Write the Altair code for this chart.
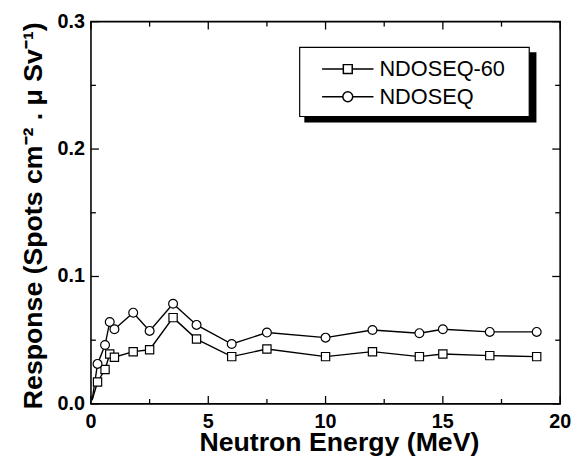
import altair as alt
import pandas as pd

# ---- data ----
energy = [0.05, 0.28, 0.6, 0.8, 1.0, 1.8, 2.5, 3.5, 4.5, 6.0, 7.5, 10.0, 12.0, 14.0, 15.0, 17.0, 19.0]
ndoseq60 = [0.003, 0.0172, 0.027, 0.0392, 0.0366, 0.041, 0.0425, 0.0677, 0.0509, 0.0371,
            0.0431, 0.0371, 0.041, 0.0371, 0.0392, 0.0379, 0.0371]
ndoseq = [0.003, 0.0314, 0.0462, 0.0643, 0.0586, 0.0716, 0.0573, 0.0786, 0.062, 0.047,
          0.056, 0.052, 0.058, 0.0555, 0.0586, 0.0565, 0.0565]
has_marker = [False, True, True, True, True, True, True, True, True, True,
              True, True, True, True, True, True, True]
series_names = ["NDOSEQ-60", "NDOSEQ"]
x_major_values = [0, 5, 10, 15, 20]
x_major_labels = ["0", "5", "10", "15", "20"]
x_minor_values = [2.5, 7.5, 12.5, 17.5]
y_major_values = [0.0, 0.1, 0.2, 0.3]
y_major_labels = ["0.0", "0.1", "0.2", "0.3"]
y_minor_values = [0.05, 0.15, 0.25]
x_title = "Neutron Energy (MeV)"
y_title = "Response (Spots cm⁻² . μ Sv⁻¹)"

rows = []
for name, vals in zip(series_names, [ndoseq60, ndoseq]):
    for e, v, m in zip(energy, vals, has_marker):
        rows.append({"energy": e, "response": v, "series": name, "marker": m})
df = pd.DataFrame(rows)

W, H = 475, 387
FONT = "Liberation Sans"
MAJ, MIN = 8, 5

xs = alt.Scale(domain=[0, 20], nice=False, zero=False)
ys = alt.Scale(domain=[0, 0.3], nice=False)


def X(field):
    return alt.X(field, scale=xs, axis=None)


def Y(field):
    return alt.Y(field, scale=ys, axis=None)


base = alt.Chart(df)

lines = base.mark_line(color="black", strokeWidth=1.4).encode(
    x=X("energy:Q"), y=Y("response:Q"), detail="series:N", order="energy:Q",
)

squares = base.transform_filter("datum.series === 'NDOSEQ-60' && datum.marker").mark_point(
    shape="square", size=70, filled=True, fill="white", stroke="black", strokeWidth=1.2, opacity=1
).encode(x=X("energy:Q"), y=Y("response:Q"))

circles = base.transform_filter("datum.series === 'NDOSEQ' && datum.marker").mark_point(
    shape="circle", size=80, filled=True, fill="white", stroke="black", strokeWidth=1.2, opacity=1
).encode(x=X("energy:Q"), y=Y("response:Q"))


# inward tick marks on all four sides, positioned by the chart's scales
def xticks(values, length, top):
    d = alt.Chart(pd.DataFrame({"energy": values}))
    y0, y1 = (0, length) if top else (H, H - length)
    return d.mark_rule(color="black", strokeWidth=1.3).encode(
        x=X("energy:Q"), y=alt.value(y0), y2=alt.value(y1))


def yticks(values, length, right):
    d = alt.Chart(pd.DataFrame({"response": values}))
    x0, x1 = (W, W - length) if right else (0, length)
    return d.mark_rule(color="black", strokeWidth=1.3).encode(
        y=Y("response:Q"), x=alt.value(x0), x2=alt.value(x1))


tick_layers = [
    xticks(x_major_values, MAJ, False), xticks(x_minor_values, MIN, False),
    xticks(x_major_values, MAJ, True), xticks(x_minor_values, MIN, True),
    yticks(y_major_values, MAJ, False), yticks(y_minor_values, MIN, False),
    yticks(y_major_values, MAJ, True), yticks(y_minor_values, MIN, True),
]

# tick labels placed through the scales
x_labels = alt.Chart(pd.DataFrame({"energy": x_major_values, "lab": x_major_labels})).mark_text(
    font=FONT, fontSize=20, fontWeight="bold", color="black", baseline="top", align="center"
).encode(x=X("energy:Q"), y=alt.value(H + 8), text="lab:N")

y_labels = alt.Chart(pd.DataFrame({"response": y_major_values, "lab": y_major_labels})).mark_text(
    font=FONT, fontSize=20, fontWeight="bold", color="black", baseline="middle", align="right"
).encode(y=Y("response:Q"), x=alt.value(-6), text="lab:N")

deco = alt.Chart(pd.DataFrame({"k": [0]}))
x_title_mark = deco.mark_text(
    text=x_title, font=FONT, fontSize=27, fontWeight="bold", color="black",
    baseline="alphabetic", align="center"
).encode(x=alt.value(251.5), y=alt.value(H + 47.5))
y_title_mark = deco.mark_text(
    text=y_title, font=FONT, fontSize=27, fontWeight="bold", color="black",
    baseline="alphabetic", align="center", angle=270
).encode(x=alt.value(-50), y=alt.value(196.5))

sq_path = "M-1,0H-0.173M0.173,0H1M-0.173,-0.173H0.173V0.173H-0.173Z"
circ_path = ("M-1,0H-0.192M0.192,0H1M-0.192,0A0.192,0.192,0,1,1,0.192,0"
             "A0.192,0.192,0,1,1,-0.192,0Z")

legend_layer = base.transform_filter("false").mark_point(
    filled=False, color="black", strokeWidth=1.5
).encode(
    x=X("energy:Q"), y=Y("response:Q"),
    shape=alt.Shape("series:N", scale=alt.Scale(domain=series_names, range=[sq_path, circ_path]),
                    legend=alt.Legend(orient="none", legendX=233, legendY=37, title=None,
                                      labelFont=FONT, labelFontSize=22, labelColor="black",
                                      symbolSize=2704, symbolStrokeColor="black",
                                      symbolStrokeWidth=1.5,
                                      symbolOpacity=1, clipHeight=22, rowPadding=6,
                                      labelOffset=5, padding=0, labelLimit=300)),
)

shadow = deco.mark_rect(color="black").encode(
    x=alt.value(216), x2=alt.value(451), y=alt.value(31), y2=alt.value(102))
box = deco.mark_rect(fill="white", stroke="black", strokeWidth=1.2).encode(
    x=alt.value(211.3), x2=alt.value(443.7), y=alt.value(26), y2=alt.value(96))

chart = alt.layer(
    shadow, box, lines, squares, circles, *tick_layers,
    x_labels, y_labels, x_title_mark, y_title_mark, legend_layer
).properties(
    width=W, height=H,
    autosize=alt.AutoSizeParams(type="none"),
    padding={"left": 84, "top": 11, "right": 12, "bottom": 57},
).configure_view(stroke="black", strokeWidth=1.6)

chart.save("out.html", embed_options={"renderer": "svg", "actions": False})
